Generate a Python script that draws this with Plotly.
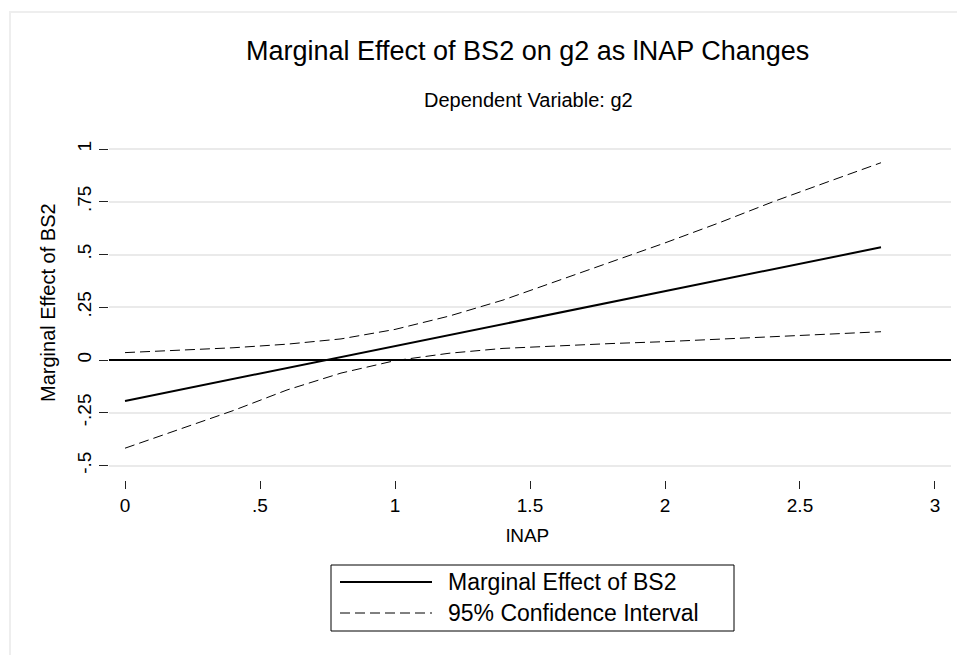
import plotly.graph_objects as go

# ---- data ----
inap = [0.0, 0.2, 0.4, 0.6, 0.8, 1.0, 1.2, 1.4, 1.6, 1.8, 2.0, 2.2, 2.4, 2.6, 2.8]
marginal_effect = [-0.194, -0.142, -0.090, -0.038, 0.014, 0.066, 0.118, 0.170,
                   0.222, 0.274, 0.326, 0.378, 0.430, 0.482, 0.534]
ci_upper = [0.035, 0.045, 0.058, 0.075, 0.100, 0.145, 0.208, 0.284,
            0.375, 0.465, 0.555, 0.650, 0.750, 0.843, 0.935]
ci_lower = [-0.418, -0.330, -0.240, -0.142, -0.062, -0.003, 0.032, 0.055,
            0.068, 0.078, 0.087, 0.099, 0.110, 0.122, 0.134]

x_ticks = [0, 0.5, 1, 1.5, 2, 2.5, 3]
x_tick_labels = ["0", ".5", "1", "1.5", "2", "2.5", "3"]
y_ticks = [-0.5, -0.25, 0, 0.25, 0.5, 0.75, 1]
y_tick_labels = ["-.5", "-.25", "0", ".25", ".5", ".75", "1"]

title_text = "Marginal Effect of BS2 on g2 as lNAP Changes"
subtitle_text = "Dependent Variable: g2"
x_title = "lNAP"
y_title = "Marginal Effect of BS2"
legend_labels = ["Marginal Effect of BS2", "95% Confidence Interval"]

FONT = "Liberation Sans, Arial, sans-serif"
OFF = 8  # page body margin
W, H = 965 - OFF, 655 - OFF
# plot area in screen pixels
SX0, SX1, SY0, SY1 = 109, 951, 140, 480
L, R, T, B = SX0 - OFF, W - (SX1 - OFF), SY0 - OFF, H - (SY1 - OFF)
PW, PH = W - L - R, H - T - B


def px(sx):
    return (sx - SX0) / PW


def py(sy):
    return (SY1 - sy) / PH


fig = go.Figure()
fig.add_trace(go.Scatter(x=inap, y=ci_upper, mode="lines", showlegend=False,
                         line=dict(color="black", width=1, dash="10px,5px")))
fig.add_trace(go.Scatter(x=inap, y=ci_lower, mode="lines", showlegend=False,
                         line=dict(color="black", width=1, dash="10px,5px")))
fig.add_trace(go.Scatter(x=inap, y=marginal_effect, mode="lines", showlegend=False,
                         line=dict(color="black", width=2)))

shapes = []
# outer graph-region frame
shapes.append(dict(type="rect", xref="paper", yref="paper",
                   x0=px(10), x1=px(990), y0=py(680), y1=py(12),
                   line=dict(color="#eeeeee", width=2), layer="below"))
# legend box
shapes.append(dict(type="rect", xref="paper", yref="paper",
                   x0=px(331), x1=px(734), y0=py(631), y1=py(565),
                   line=dict(color="black", width=1), fillcolor="white"))
shapes.append(dict(type="line", xref="paper", yref="paper",
                   x0=px(340), x1=px(432), y0=py(582), y1=py(582),
                   line=dict(color="black", width=2)))
shapes.append(dict(type="line", xref="paper", yref="paper",
                   x0=px(340), x1=px(432), y0=py(613), y1=py(613),
                   line=dict(color="black", width=1, dash="10px,5px")))

annotations = [
    dict(text=title_text, xref="paper", yref="paper", x=px(527), y=py(51),
         xanchor="center", yanchor="middle", showarrow=False,
         font=dict(family=FONT, size=27, color="black")),
    dict(text=subtitle_text, xref="paper", yref="paper", x=px(528), y=py(100),
         xanchor="center", yanchor="middle", showarrow=False,
         font=dict(family=FONT, size=20, color="black")),
    dict(text=x_title, xref="paper", yref="paper", x=px(527), y=py(535),
         xanchor="center", yanchor="middle", showarrow=False,
         font=dict(family=FONT, size=19, color="black")),
    dict(text=y_title, xref="paper", yref="paper", x=px(48), y=py(302),
         xanchor="center", yanchor="middle", showarrow=False, textangle=-90,
         font=dict(family=FONT, size=20, color="black")),
    dict(text=legend_labels[0], xref="paper", yref="paper", x=px(446), y=py(582),
         xanchor="left", yanchor="middle", showarrow=False,
         font=dict(family=FONT, size=23, color="black")),
    dict(text=legend_labels[1], xref="paper", yref="paper", x=px(446), y=py(613),
         xanchor="left", yanchor="middle", showarrow=False,
         font=dict(family=FONT, size=23, color="black")),
]

fig.update_layout(
    width=W, height=H,
    margin=dict(l=L, r=R, t=T, b=B, autoexpand=False),
    paper_bgcolor="white", plot_bgcolor="white",
    font=dict(family=FONT, size=19, color="black"),
    showlegend=False,
    shapes=shapes,
    annotations=annotations,
    xaxis=dict(range=[-0.0593, 3.0593], tickmode="array", tickvals=x_ticks,
               ticktext=x_tick_labels, showgrid=False, zeroline=False,
               showline=False, ticks="outside", ticklen=8, tickcolor="#222",
               tickwidth=1, tickfont=dict(family=FONT, size=19)),
    yaxis=dict(range=[-0.5687, 1.0427], tickmode="array", tickvals=y_ticks,
               ticktext=y_tick_labels, showgrid=True, gridcolor="#eaeaea",
               gridwidth=2, zeroline=True, zerolinecolor="black",
               zerolinewidth=2, showline=False, ticks="outside", ticklen=9,
               tickcolor="#222", tickwidth=1, tickangle=-90,
               tickfont=dict(family=FONT, size=19)),
)

fig.write_html("out.html")
